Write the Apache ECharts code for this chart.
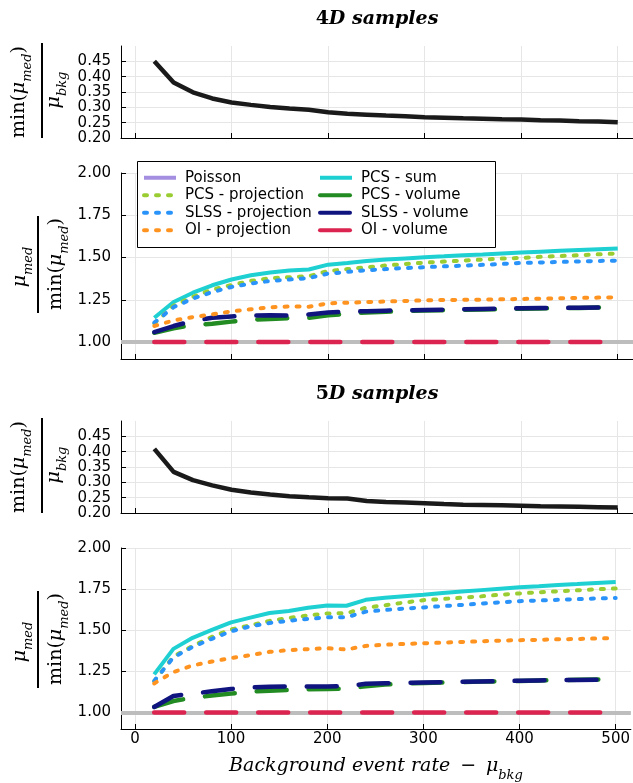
<!DOCTYPE html>
<html>
<head>
<meta charset="utf-8">
<script src="https://cdn.jsdelivr.net/npm/echarts@6/dist/echarts.min.js"></script>
<style>
html, body { margin: 0; padding: 0; background: #fff; }
#main { width: 633px; height: 783px; }
</style>
</head>
<body>
<div id="main"></div>
<script>
// background rate (x) and tick labels
var bkgRate = [20, 40, 60, 80, 100, 120, 140, 160, 180, 200, 220, 240, 260, 280, 300, 320, 340, 360, 380, 400, 420, 440, 460, 480, 500];
var xTicks = [0, 100, 200, 300, 400, 500];
var minTicks = [0.20, 0.25, 0.30, 0.35, 0.40, 0.45];
var ratioTicks = [1.00, 1.25, 1.50, 1.75, 2.00];

// 4D samples
var minMed4D = [0.450, 0.381, 0.349, 0.329, 0.316, 0.308, 0.301, 0.296, 0.292, 0.284, 0.279, 0.276, 0.273, 0.271, 0.268, 0.266, 0.264, 0.263, 0.261, 0.260, 0.258, 0.257, 0.255, 0.254, 0.251];
var poisson4D = [];
var pcsSum4D = [1.144, 1.237, 1.292, 1.336, 1.370, 1.395, 1.411, 1.423, 1.429, 1.458, 1.468, 1.480, 1.488, 1.495, 1.502, 1.507, 1.513, 1.518, 1.524, 1.530, 1.535, 1.540, 1.545, 1.549, 1.553];
var pcsProj4D = [1.110, 1.215, 1.268, 1.310, 1.338, 1.362, 1.378, 1.384, 1.390, 1.420, 1.432, 1.442, 1.453, 1.462, 1.470, 1.476, 1.482, 1.488, 1.494, 1.498, 1.504, 1.509, 1.514, 1.519, 1.524];
var pcsVol4D = [1.055, 1.082, 1.100, 1.109, 1.121, 1.132, 1.137, 1.142, 1.144, 1.158, 1.168, 1.175, 1.180, 1.184, 1.187, 1.189, 1.191, 1.193, 1.195, 1.197, 1.199, 1.201, 1.202, 1.204, 1.205];
var slssProj4D = [1.115, 1.207, 1.257, 1.296, 1.326, 1.346, 1.362, 1.370, 1.379, 1.405, 1.415, 1.425, 1.432, 1.438, 1.443, 1.448, 1.452, 1.457, 1.462, 1.468, 1.471, 1.474, 1.477, 1.480, 1.482];
var slssVol4D = [1.059, 1.095, 1.125, 1.144, 1.152, 1.157, 1.158, 1.157, 1.163, 1.175, 1.180, 1.183, 1.186, 1.188, 1.190, 1.192, 1.194, 1.196, 1.198, 1.200, 1.201, 1.202, 1.203, 1.205, 1.206];
var oiProj4D = [1.095, 1.128, 1.148, 1.164, 1.182, 1.194, 1.206, 1.211, 1.209, 1.229, 1.233, 1.237, 1.240, 1.243, 1.247, 1.249, 1.250, 1.251, 1.253, 1.255, 1.257, 1.259, 1.261, 1.263, 1.265];
var oiVol4D = [1, 1, 1, 1, 1, 1, 1, 1, 1, 1, 1, 1, 1, 1, 1, 1, 1, 1, 1, 1, 1, 1, 1, 1, 1];

// 5D samples
var minMed5D = [0.409, 0.334, 0.307, 0.290, 0.276, 0.267, 0.260, 0.255, 0.251, 0.248, 0.247, 0.239, 0.236, 0.234, 0.232, 0.229, 0.227, 0.226, 0.225, 0.224, 0.222, 0.221, 0.220, 0.219, 0.218];
var poisson5D = [];
var pcsSum5D = [1.232, 1.387, 1.454, 1.502, 1.548, 1.577, 1.605, 1.617, 1.637, 1.651, 1.649, 1.685, 1.697, 1.707, 1.716, 1.726, 1.735, 1.744, 1.753, 1.762, 1.768, 1.775, 1.781, 1.788, 1.794];
var pcsProj5D = [1.190, 1.340, 1.405, 1.460, 1.505, 1.530, 1.557, 1.575, 1.590, 1.602, 1.604, 1.637, 1.652, 1.668, 1.683, 1.690, 1.698, 1.706, 1.716, 1.724, 1.731, 1.737, 1.743, 1.749, 1.754];
var pcsVol5D = [1.034, 1.070, 1.090, 1.103, 1.115, 1.127, 1.133, 1.137, 1.141, 1.143, 1.145, 1.160, 1.170, 1.176, 1.180, 1.183, 1.186, 1.188, 1.190, 1.192, 1.195, 1.197, 1.199, 1.201, 1.199];
var slssProj5D = [1.192, 1.335, 1.399, 1.448, 1.494, 1.524, 1.544, 1.558, 1.569, 1.579, 1.579, 1.613, 1.623, 1.632, 1.639, 1.647, 1.654, 1.662, 1.670, 1.677, 1.681, 1.685, 1.689, 1.693, 1.696];
var slssVol5D = [1.034, 1.101, 1.115, 1.129, 1.143, 1.153, 1.157, 1.158, 1.159, 1.159, 1.160, 1.175, 1.178, 1.181, 1.183, 1.185, 1.187, 1.189, 1.191, 1.193, 1.195, 1.197, 1.198, 1.199, 1.197];
var oiProj5D = [1.177, 1.246, 1.286, 1.310, 1.331, 1.349, 1.369, 1.379, 1.385, 1.391, 1.383, 1.405, 1.412, 1.417, 1.421, 1.425, 1.429, 1.433, 1.437, 1.440, 1.442, 1.445, 1.447, 1.450, 1.452];
var oiVol5D = [1, 1, 1, 1, 1, 1, 1, 1, 1, 1, 1, 1, 1, 1, 1, 1, 1, 1, 1, 1, 1, 1, 1, 1, 1];

var SANS = 'DejaVu Sans';
var SERIF = 'DejaVu Serif';
var DOTS = [3, 9];
var DASH = [30, 22];

function pairs(arr) {
    return arr.map(function (v, i) { return [bkgRate[i], v]; });
}

function xAxisFor(g, labels) {
    return {
        type: 'value', gridIndex: g, min: -14.5, max: 515.8,
        axisLine: { onZero: false, lineStyle: { color: '#000', width: 1 } },
        axisTick: { inside: true, length: 5, customValues: xTicks, lineStyle: { color: '#000' } },
        axisLabel: { show: labels, customValues: xTicks, margin: 3, fontFamily: SANS, fontSize: 15, color: '#000' },
        splitLine: { show: true, lineStyle: { color: '#e6e6e6', width: 1 } }
    };
}

function yAxisFor(g, lo, hi, ticks) {
    return {
        type: 'value', gridIndex: g, min: lo, max: hi,
        axisLine: { show: true, onZero: false, lineStyle: { color: '#000', width: 1 } },
        axisTick: { show: true, inside: true, length: 5, customValues: ticks, lineStyle: { color: '#000' } },
        axisLabel: {
            customValues: ticks, margin: 10, fontFamily: SANS, fontSize: 15, color: '#000',
            formatter: function (v) { return v.toFixed(2); }
        },
        splitLine: { show: true, lineStyle: { color: '#e6e6e6', width: 1 } }
    };
}

function line(name, g, arr, color, width, dash) {
    return {
        name: name, type: 'line', xAxisIndex: g, yAxisIndex: g,
        data: pairs(arr), symbol: 'none', showSymbol: false, silent: true,
        lineStyle: { color: color, width: width, type: dash || 'solid', cap: dash ? 'round' : 'butt' },
        itemStyle: { color: color }
    };
}

function ratioSeries(g, d) {
    var s = [
        line('Poisson', g, d.poisson, '#a48ee0', 4),
        line('PCS - sum', g, d.pcsSum, '#1ed0d2', 4),
        line('PCS - projection', g, d.pcsProj, '#9acd32', 4, DOTS),
        line('PCS - volume', g, d.pcsVol, '#228b22', 4.5, DASH),
        line('SLSS - projection', g, d.slssProj, '#2a93fa', 4, DOTS),
        line('SLSS - volume', g, d.slssVol, '#10147f', 4.5, DASH),
        line('OI - projection', g, d.oiProj, '#ff9320', 4, DOTS),
        line('OI - volume', g, d.oiVol, '#db2450', 4.5, DASH)
    ];
    s[0].z = 1;
    s[0].markLine = {
        silent: true, symbol: 'none', z: 1, animation: false,
        label: { show: false },
        lineStyle: { color: '#bdbdbd', width: 4, type: 'solid' },
        data: [{ yAxis: 1 }]
    };
    return s;
}

var riMath = {
    m: { fontFamily: SERIF, fontSize: 19, verticalAlign: 'bottom', padding: [0, 0, 6, 0] },
    mu: { fontFamily: SERIF, fontStyle: 'italic', fontSize: 19, verticalAlign: 'bottom', padding: [0, 0, 6, 0] },
    sub: { fontFamily: SERIF, fontStyle: 'italic', fontSize: 13, verticalAlign: 'bottom' }
};

function mathText(txt, x, y) {
    return {
        type: 'text', x: x, y: y, rotation: Math.PI / 2, z: 10,
        style: { text: txt, rich: riMath, align: 'center', verticalAlign: 'middle', fill: '#000' }
    };
}

function bar(x, y1, y2) {
    return { type: 'line', z: 10, shape: { x1: x, y1: y1, x2: x, y2: y2 }, style: { stroke: '#000', lineWidth: 2 } };
}

var minLabel = '{m|min(}{mu|μ}{sub|med}{m|)}';
var medLabel = '{mu|μ}{sub|med}';
var bkgLabel = '{mu|μ}{sub|bkg}';

var legendText = { fontFamily: SANS, fontSize: 15, color: '#000', lineHeight: 17.5, padding: [0, 0, 0, 4] };

var titleRich = {
    n: { fontFamily: SERIF, fontWeight: 'bold', fontSize: 19, color: '#000' },
    i: { fontFamily: SERIF, fontWeight: 'bold', fontStyle: 'italic', fontSize: 19, color: '#000' }
};

var chart = echarts.init(document.getElementById('main'), null, { renderer: 'canvas' });

var option = {
    animation: false,
    backgroundColor: '#fff',
    title: [
        { text: '{n|4}{i|D samples}', left: 377, top: 10, textAlign: 'center', padding: 0, textStyle: { rich: titleRich } },
        { text: '{n|5}{i|D samples}', left: 377, top: 385, textAlign: 'center', padding: 0, textStyle: { rich: titleRich } }
    ],
    grid: [
        { left: 121, top: 46, width: 512, height: 92 },
        { left: 121, top: 173, width: 512, height: 186 },
        { left: 121, top: 421, width: 512, height: 92 },
        { left: 121, top: 548, width: 512, height: 185.5 }
    ],
    xAxis: [
        xAxisFor(0, false),
        xAxisFor(1, false),
        xAxisFor(2, false),
        Object.assign(xAxisFor(3, true), {
            name: '{t|Background event rate \u2009−\u2009 }{mu|μ}{sub|bkg}',
            nameLocation: 'middle', nameGap: 28,
            nameTextStyle: {
                color: '#000',
                rich: {
                    t: { fontFamily: SERIF, fontStyle: 'italic', fontSize: 19, verticalAlign: 'bottom', padding: [0, 0, 6, 0] },
                    mu: riMath.mu,
                    sub: riMath.sub
                }
            }
        })
    ],
    yAxis: [
        yAxisFor(0, 0.2, 0.5, minTicks),
        yAxisFor(1, 0.9, 2.0, ratioTicks),
        yAxisFor(2, 0.2, 0.5, minTicks),
        yAxisFor(3, 0.9, 2.0, ratioTicks)
    ],
    legend: [
        {
            data: ['Poisson', 'PCS - projection', 'SLSS - projection', 'OI - projection'],
            orient: 'vertical', left: 142, top: 169, padding: 0, itemGap: 0,
            itemWidth: 32, itemHeight: 10, selectedMode: false, z: 20,
            itemStyle: { opacity: 0 }, lineStyle: { width: 4 }, textStyle: legendText
        },
        {
            data: ['PCS - sum', 'PCS - volume', 'SLSS - volume', 'OI - volume'],
            orient: 'vertical', left: 318, top: 169, padding: 0, itemGap: 0,
            itemWidth: 32, itemHeight: 10, selectedMode: false, z: 20,
            itemStyle: { opacity: 0 }, lineStyle: { width: 4 }, textStyle: legendText
        }
    ],
    graphic: [
        { type: 'rect', z: 15, shape: { x: 137.5, y: 161.5, width: 358, height: 86 }, style: { fill: '#fff', stroke: '#000', lineWidth: 1 } },
        mathText(minLabel, 22, 92), bar(42, 43, 138), mathText(bkgLabel, 57, 90),
        mathText(medLabel, 23, 267), bar(38, 216, 313), mathText(minLabel, 59, 264),
        mathText(minLabel, 22, 467), bar(42, 418, 513), mathText(bkgLabel, 57, 465),
        mathText(medLabel, 23, 642), bar(38, 591, 688), mathText(minLabel, 59, 639)
    ],
    series: [
        line('min4D', 0, minMed4D, '#1a1a1a', 4.5),
        line('min5D', 2, minMed5D, '#1a1a1a', 4.5)
    ].concat(
        ratioSeries(1, { poisson: poisson4D, pcsSum: pcsSum4D, pcsProj: pcsProj4D, pcsVol: pcsVol4D, slssProj: slssProj4D, slssVol: slssVol4D, oiProj: oiProj4D, oiVol: oiVol4D }),
        ratioSeries(3, { poisson: poisson5D, pcsSum: pcsSum5D, pcsProj: pcsProj5D, pcsVol: pcsVol5D, slssProj: slssProj5D, slssVol: slssVol5D, oiProj: oiProj5D, oiVol: oiVol5D })
    )
};

chart.setOption(option);
</script>
</body>
</html>
